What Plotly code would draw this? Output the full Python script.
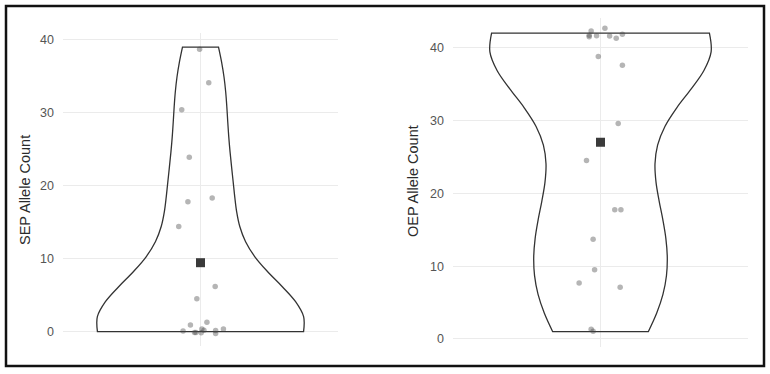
import numpy as np
import plotly.graph_objects as go

# ---------------- data ----------------
SEP_LABEL = "SEP Allele Count"
OEP_LABEL = "OEP Allele Count"

# allele counts per sample
sep_counts = [39, 34, 30, 24, 18, 18, 14, 6, 4, 1, 1,
              0, 0, 0, 0, 0, 0, 0, 0, 0]
oep_counts = [42, 42, 41, 42, 42, 41, 41, 42, 39, 38,
              30, 24, 18, 18, 14, 9, 8, 7, 1, 1]

# jitter applied to the plotted points (x offset, y offset)
sep_jitter_x = [-0.004, 0.036, -0.082, -0.049, -0.055, 0.051, -0.095, 0.064, -0.016, -0.044, 0.028,
                -0.076, -0.026, -0.020, 0.003, 0.006, 0.015, 0.066, 0.066, 0.100]
sep_jitter_y = [-0.3, 0.1, 0.4, -0.1, -0.2, 0.3, 0.4, 0.2, 0.5, -0.1, 0.3,
                0.1, -0.1, -0.1, -0.15, 0.35, 0.2, 0.15, -0.25, 0.35]
oep_jitter_x = [-0.038, -0.046, -0.046, -0.016, 0.018, 0.037, 0.064, 0.089, -0.009, 0.089,
                0.072, -0.057, 0.058, 0.083, -0.030, -0.024, -0.087, 0.080, -0.038, -0.030]
oep_jitter_y = [0.3, -0.3, 0.5, -0.35, 0.66, 0.6, 0.3, -0.17, -0.2, -0.4,
                -0.4, 0.5, -0.24, -0.24, -0.3, 0.5, -0.3, 0.1, 0.33, 0.05]

tick_vals = [0, 10, 20, 30, 40]
tick_text = ["0", "10", "20", "30", "40"]

W, H = 770, 374


def nrd0(v):
    v = np.asarray(v, dtype=float)
    sd = np.std(v, ddof=1)
    q1, q3 = np.quantile(v, [0.25, 0.75])
    lo = min(sd, (q3 - q1) / 1.34)
    return 0.9 * lo * len(v) ** (-0.2)


def px_x(a, b):
    return [a / W, b / W]


def px_y(top, bottom):
    return [(H - bottom) / H, (H - top) / H]


fig = go.Figure()

panels = [
    (sep_counts, sep_jitter_x, sep_jitter_y, "x", "y"),
    (oep_counts, oep_jitter_x, oep_jitter_y, "x2", "y2"),
]

for counts, jx, jy, xa, ya in panels:
    counts = np.asarray(counts, dtype=float)
    pts_y = counts + np.asarray(jy)
    fig.add_trace(go.Violin(
        x0=1, y=counts, xaxis=xa, yaxis=ya,
        width=0.9, scalemode="width",
        spanmode="hard",
        bandwidth=nrd0(pts_y),
        points=False, box_visible=False, meanline_visible=False,
        fillcolor="rgba(255,255,255,0)",
        line=dict(color="#333333", width=1.3),
        showlegend=False, hoverinfo="skip",
    ))
    fig.add_trace(go.Scatter(
        x=[1 + j for j in jx], y=pts_y, mode="markers", xaxis=xa, yaxis=ya,
        marker=dict(size=5.5, color="rgba(70,70,70,0.4)", line=dict(width=0)),
        showlegend=False, hoverinfo="skip",
    ))
    fig.add_trace(go.Scatter(
        x=[1], y=[float(np.mean(counts))], mode="markers", xaxis=xa, yaxis=ya,
        marker=dict(size=9, symbol="square", color="#3a3a3a", line=dict(width=0)),
        showlegend=False, hoverinfo="skip",
    ))

grid = "#EBEBEB"
tickfont = dict(family="Liberation Sans, Arial, sans-serif", size=12.5, color="#555555")

xcommon = dict(range=[0.4, 1.6], tickvals=[1], showticklabels=False, showgrid=True,
               gridcolor=grid, gridwidth=1.2, zeroline=False, showline=False, ticks="",
               fixedrange=True)
ycommon = dict(tickvals=tick_vals, ticktext=tick_text, showgrid=True, gridcolor=grid,
               gridwidth=1.3, zeroline=False, showline=False, ticks="",
               ticklabelstandoff=8, tickfont=tickfont, fixedrange=True)

fig.update_layout(
    width=W, height=H,
    margin=dict(l=0, r=0, t=0, b=0),
    paper_bgcolor="white", plot_bgcolor="white",
    xaxis=dict(domain=px_x(63, 338), anchor="y", **xcommon),
    yaxis=dict(domain=px_y(32.8, 345.9), anchor="x", range=[-1.95, 40.95], **ycommon),
    xaxis2=dict(domain=px_x(453, 748), anchor="y2", **xcommon),
    yaxis2=dict(domain=px_y(18.2, 346.6), anchor="x2", range=[-1.05, 44.05], **ycommon),
    shapes=[dict(type="rect", xref="paper", yref="paper",
                 x0=6 / W, x1=764 / W, y0=(H - 366) / H, y1=(H - 6) / H,
                 line=dict(color="#111111", width=2.5), fillcolor="rgba(0,0,0,0)")],
    annotations=[
        dict(text=SEP_LABEL, xref="paper", yref="paper", x=25 / W, y=(H - 190) / H,
             textangle=-90, showarrow=False, xanchor="center", yanchor="middle",
             font=dict(family="Liberation Sans, Arial, sans-serif", size=14.5, color="#2b2b2b")),
        dict(text=OEP_LABEL, xref="paper", yref="paper", x=413 / W, y=(H - 181) / H,
             textangle=-90, showarrow=False, xanchor="center", yanchor="middle",
             font=dict(family="Liberation Sans, Arial, sans-serif", size=14.5, color="#2b2b2b")),
    ],
)

fig.write_html("out.html")
